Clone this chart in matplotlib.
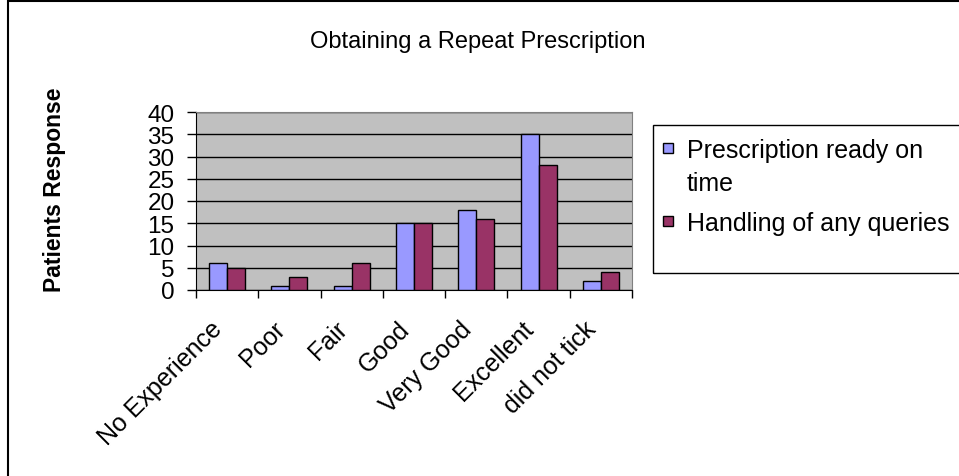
import numpy as np
import matplotlib.pyplot as plt
import matplotlib.patches as mpatches
from matplotlib.transforms import ScaledTranslation

plt.rcParams['font.family'] = ['Liberation Sans', 'DejaVu Sans']

# Données
categories = ['No Experience', 'Poor', 'Fair', 'Good', 'Very Good', 'Excellent', 'did not tick']
ready_on_time = [6, 1, 1, 15, 18, 35, 2]
handling_queries = [5, 3, 6, 15, 16, 28, 4]
series_names = ['Prescription ready on\ntime', 'Handling of any queries']
colors = ['#9999FF', '#993366']

W, H = 959, 477
fig = plt.figure(figsize=(W / 100, H / 100), dpi=100)
ax = fig.add_axes([196 / W, 1 - 291 / H, (632 - 196) / W, (291 - 113) / H])

x = np.arange(len(categories))
w = 0.29
ax.bar(x - w / 2, ready_on_time, w, color=colors[0], edgecolor='black', linewidth=1, zorder=3)
ax.bar(x + w / 2, handling_queries, w, color=colors[1], edgecolor='black', linewidth=1, zorder=3)

ax.set_facecolor('#C0C0C0')
ax.set_xlim(-0.5, len(categories) - 0.5)
ax.set_ylim(0, 40)
ax.set_yticks(np.arange(0, 41, 5))
ax.yaxis.grid(True, color='black', linewidth=1, zorder=1)
ax.set_axisbelow(True)
ax.tick_params(axis='y', labelsize=17.5, length=6.5, width=1, pad=9)

# étiquettes de l'axe x, tournées à 45°
ax.set_xticks(x)
ax.set_xticklabels(categories, rotation=45, ha='right', va='top', rotation_mode='anchor', fontsize=18)
ax.tick_params(axis='x', which='major', length=0, pad=19)
shift = ScaledTranslation(-17 / 100, 0, fig.dpi_scale_trans)
for lab in ax.get_xticklabels():
    lab.set_transform(lab.get_transform() + shift)
ax.set_xticks(np.arange(-0.5, len(categories), 1), minor=True)
ax.tick_params(axis='x', which='minor', length=6, width=1)

for s in ['top', 'right']:
    ax.spines[s].set_color('#808080')
for s in ['left', 'bottom']:
    ax.spines[s].set_color('black')

fig.text(54 / W, 1 - 190 / H, 'Patients Response', rotation=90, ha='center', va='center',
         fontsize=16.5, fontweight='bold')
fig.text(478 / W, 1 - 42 / H, 'Obtaining a Repeat Prescription', ha='center', va='center', fontsize=17)

# Légende (faite à la main pour placer le carré sur la première ligne)
fig.patches.append(mpatches.Rectangle((653 / W, 1 - 274 / H), 330 / W, 148 / H, transform=fig.transFigure,
                                      fill=False, edgecolor='black', linewidth=1))
first_baselines = [158, 231]
for name, col, yb in zip(series_names, colors, first_baselines):
    fig.patches.append(mpatches.Rectangle((663 / W, 1 - (yb - 4) / H), 10 / W, 10 / H,
                                          transform=fig.transFigure, facecolor=col,
                                          edgecolor='black', linewidth=1))
    for i, line in enumerate(name.split('\n')):
        fig.text(687 / W, 1 - (yb + 33 * i) / H, line, ha='left', va='baseline', fontsize=18)

# Cadre extérieur
fig.patches.append(mpatches.Rectangle((8 / W, -0.1), 1.2, 1.1 - 2 / H, transform=fig.transFigure,
                                      fill=False, edgecolor='black', linewidth=1.5))

fig.savefig('out.png', dpi=100)
